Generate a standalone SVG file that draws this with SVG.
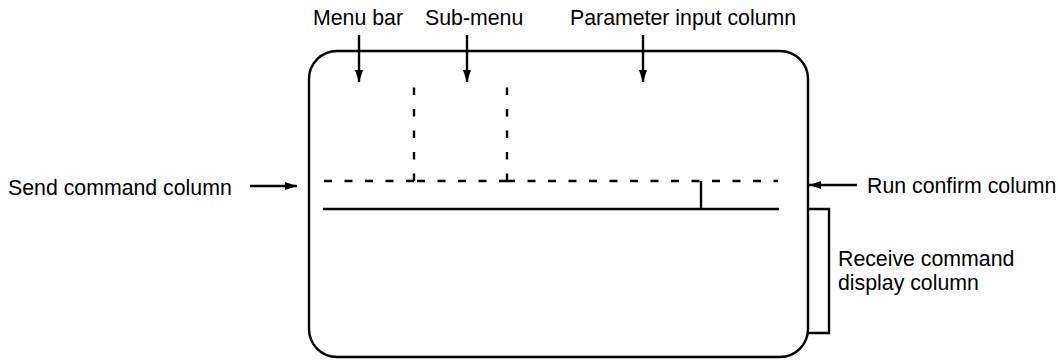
<svg xmlns="http://www.w3.org/2000/svg" width="1058" height="360" viewBox="0 0 1058 360">
<style>
.ln{fill:none;stroke:#000;stroke-width:2.4}
.dh{fill:none;stroke:#000;stroke-width:2.4;stroke-dasharray:8 12.5}
.dv{fill:none;stroke:#000;stroke-width:2.4;stroke-dasharray:7.5 14}
.t{font-family:"Liberation Sans",Arial,sans-serif;font-size:21.3px;fill:#000}
</style>
<defs>
<marker id="ah" viewBox="0 0 12 8" refX="12" refY="4" markerWidth="12" markerHeight="8" markerUnits="userSpaceOnUse" orient="auto">
<path d="M0 0 L12 4 L0 8 Z" fill="#000"/>
</marker>
</defs>
<g id="screen">
<rect class="ln" x="309" y="51" width="499" height="306" rx="28" ry="28"/>
</g>
<g id="receive-box">
<path class="ln" d="M808 209 H829 V333 H808"/>
</g>
<g id="screen-lines">
<path class="dh" d="M414 181 H323"/>
<path class="dv" d="M414 181 V85"/>
<path class="dh" d="M507 181 H414"/>
<path class="dv" d="M507 181 V85"/>
<path class="dh" d="M507 181 H778"/>
<path class="ln" d="M323 209 H779"/>
<path class="ln" d="M701 181 V209"/>
</g>
<g id="labels">
<text class="t" x="313" y="25">Menu bar</text>
<text class="t" x="425" y="25">Sub-menu</text>
<text class="t" x="570" y="25">Parameter input column</text>
<text class="t" x="8" y="195">Send command column</text>
<text class="t" x="867" y="193">Run confirm column</text>
<text class="t" x="838" y="266">Receive command</text>
<text class="t" x="838" y="290">display column</text>
</g>
<g id="connectors">
<line class="ln" x1="359" y1="35" x2="359" y2="82" marker-end="url(#ah)"/>
<line class="ln" x1="467" y1="35" x2="467" y2="82" marker-end="url(#ah)"/>
<line class="ln" x1="643" y1="35" x2="643" y2="82" marker-end="url(#ah)"/>
<line class="ln" x1="250" y1="186" x2="297" y2="186" marker-end="url(#ah)"/>
<line class="ln" x1="857" y1="185" x2="809" y2="185" marker-end="url(#ah)"/>
</g>
</svg>
